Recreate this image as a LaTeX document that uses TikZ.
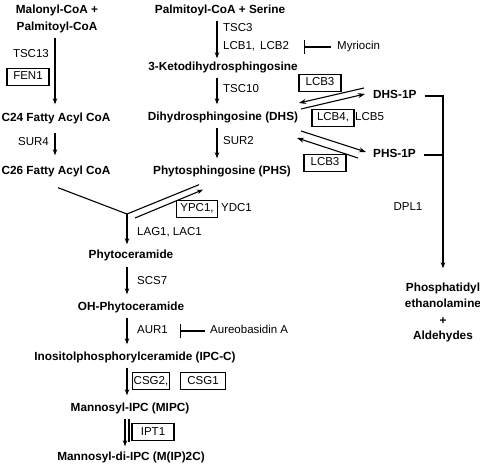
\documentclass[tikz,border=0pt]{standalone}
\usepackage{fontspec}
\setmainfont{Liberation Sans}
\usetikzlibrary{arrows.meta,calc}
\begin{document}
\begin{tikzpicture}[x=1pt,y=-1pt,
  every node/.style={font=\fontsize{11.5}{13}\selectfont, inner sep=0pt, text height=8.5pt, text depth=2.5pt},
  met/.style={font=\fontsize{11.8}{13}\selectfont\bfseries},
  enz/.style={anchor=west},
  ebox/.style={draw, line width=1.3pt, minimum width=42pt, minimum height=17pt},
  arr/.style={line width=1.1pt, -{Stealth[length=6pt,width=4.5pt]}},
  harr/.style={line width=1.1pt, -{Stealth[length=7pt,width=5pt]}},
  ln/.style={line width=1.1pt},
  inh/.style={line width=1.1pt, -{Bar[width=14pt,line width=1.3pt]}}
]
\useasboundingbox (0,0) rectangle (480,468);
% column coordinates
\coordinate (xl) at (55,0);
\coordinate (xc) at (217,0);
\coordinate (xm) at (127,0);
\coordinate (xr) at (443,0);
\coordinate (xm2) at (125,0);
\coordinate (xm3) at (129,0);

% left column
\node[met] (malonyl) at (57,11) {Malonyl-CoA +};
\node[met] (palmL) at (57,28) {Palmitoyl-CoA};
\node[met] (c24) at (56,119) {C24 Fatty Acyl CoA};
\node[met] (c26) at (56,172) {C26 Fatty Acyl CoA};
\draw[arr] ($(palmL.south -| xl)+(0,4)$) -- ($(c24.north -| xl)+(0,-9)$);
\node[anchor=east] (tsc13) at (49,55) {TSC13};
\node[ebox] (fen1) at (28,77) {FEN1};
\draw[arr] ($(c24.south -| xl)+(0,8)$) -- ($(c26.north -| xl)+(0,-11)$);
\node[anchor=east] (sur4) at (49,143) {SUR4};

% center column
\node[met] (ser) at (220,11) {Palmitoyl-CoA + Serine};
\node[met] (ket) at (223,68) {3-Ketodihydrosphingosine};
\node[met] (dhs) at (223,118) {Dihydrosphingosine (DHS)};
\node[met] (phs) at (222,172) {Phytosphingosine (PHS)};
\draw[arr] ($(ser.south -| xc)+(0,4)$) -- ($(ket.north -| xc)+(0,-4)$);
\node[enz] (tsc3) at (223,29) {TSC3};
\node[enz] (lcb12) at (223,47) {LCB1,\hspace{5pt}LCB2};
\node[anchor=west] (myr) at (337,47) {Myriocin};
\draw[inh] ([xshift=-6pt]myr.west) -- ++(-27,0);
\draw[arr] ($(ket.south -| xc)+(0,4)$) -- ($(dhs.north -| xc)+(0,-8)$);
\node[enz] (tsc10) at (223,90) {TSC10};
\draw[arr] ($(dhs.south -| xc)+(0,4)$) -- ($(phs.north -| xc)+(0,-8)$);
\node[enz] (sur2) at (223,142) {SUR2};

% right side
\node[met, anchor=west] (dhs1p) at (373,96) {DHS-1P};
\node[met, anchor=west] (phs1p) at (373,155) {PHS-1P};
\node[met] (pe1) at (443,289) {Phosphatidyl};
\node[met] (pe2) at (443,305) {ethanolamine};
\node[met] (pe3) at (443,321) {+};
\node[met] (pe4) at (443,337) {Aldehydes};
\draw[arr] ([xshift=8pt]dhs1p.east) -- (dhs1p.east -| xr) -- ($(pe1.north)+(0,-15)$);
\draw[ln] ([xshift=8pt]phs1p.east) -- (phs1p.east -| xr);
\node (dpl1) at (408,208) {DPL1};

% DHS <-> DHS-1P, DHS <-> PHS-1P
\coordinate (d1s) at (364,88);
\coordinate (d1e) at (299,103);
\coordinate (d2s) at (301,109);
\coordinate (d2e) at (365,94);
\coordinate (p1s) at (301,131);
\coordinate (p1e) at (366,152);
\coordinate (p2s) at (358,158);
\coordinate (p2e) at (297,138);
\draw[harr] (d1s) -- (d1e);
\draw[harr] (d2s) -- (d2e);
\draw[harr] (p1s) -- (p1e);
\draw[harr] (p2s) -- (p2e);
\node[ebox] (lcb3a) at (320,83) {LCB3};
\node[ebox] (lcb4) at (333,118) {LCB4,};
\node[anchor=west] (lcb5) at (355,118) {LCB5};
\node[ebox] (lcb3b) at (325,163) {LCB3};

% junction
\coordinate (J) at (127,214);
\draw[ln] ($(c26.south)+(2,10)$) -- (J) -- ($(phs.south)+(-23,7)$);
\draw[arr] ($(J)+(8,4)$) -- ($(phs.south)+(-19,12)$);
\node[ebox, minimum width=41pt] (ypc1) at (197,209) {YPC1,};
\node[anchor=west] (ydc1) at (221,209) {YDC1};

% lower column
\node[met] (phyto) at (131,256) {Phytoceramide};
\node[met] (ohp) at (131,307) {OH-Phytoceramide};
\node[met] (ipc) at (135,357) {Inositolphosphorylceramide (IPC-C)};
\node[met] (mipc) at (130,408) {Mannosyl-IPC (MIPC)};
\node[met] (m2) at (131,457) {Mannosyl-di-IPC (M(IP)2C)};
\draw[arr] (J) -- ($(phyto.north -| xm)+(0,-6)$);
\node[enz] (lag) at (137,233) {LAG1, LAC1};
\draw[arr] ($(phyto.south -| xm)+(0,5)$) -- ($(ohp.north -| xm)+(0,-7)$);
\node[enz] (scs7) at (137,281) {SCS7};
\draw[arr] ($(ohp.south -| xm)+(0,5)$) -- ($(ipc.north -| xm)+(0,-7)$);
\node[enz] (aur1) at (137,331) {AUR1};
\node[anchor=west] (aureo) at (210,331) {Aureobasidin A};
\draw[inh] ([xshift=-5pt]aureo.west) -- ++(-25,0);
\draw[arr] ($(ipc.south -| xm)+(0,5)$) -- ($(mipc.north -| xm)+(0,-7)$);
\node[ebox, minimum width=37pt] (csg2) at (151,381) {CSG2,};
\node[ebox, minimum width=45pt] (csg1) at (203,381) {CSG1};
\draw[arr] ($(mipc.south -| xm2)+(0,5)$) -- ($(m2.north -| xm2)+(0,-5)$);
\draw[ln] ($(mipc.south -| xm3)+(0,5)$) -- ($(m2.north -| xm3)+(0,-9)$);
\node[ebox, minimum width=42pt] (ipt1) at (153,432) {IPT1};
\end{tikzpicture}
\end{document}
